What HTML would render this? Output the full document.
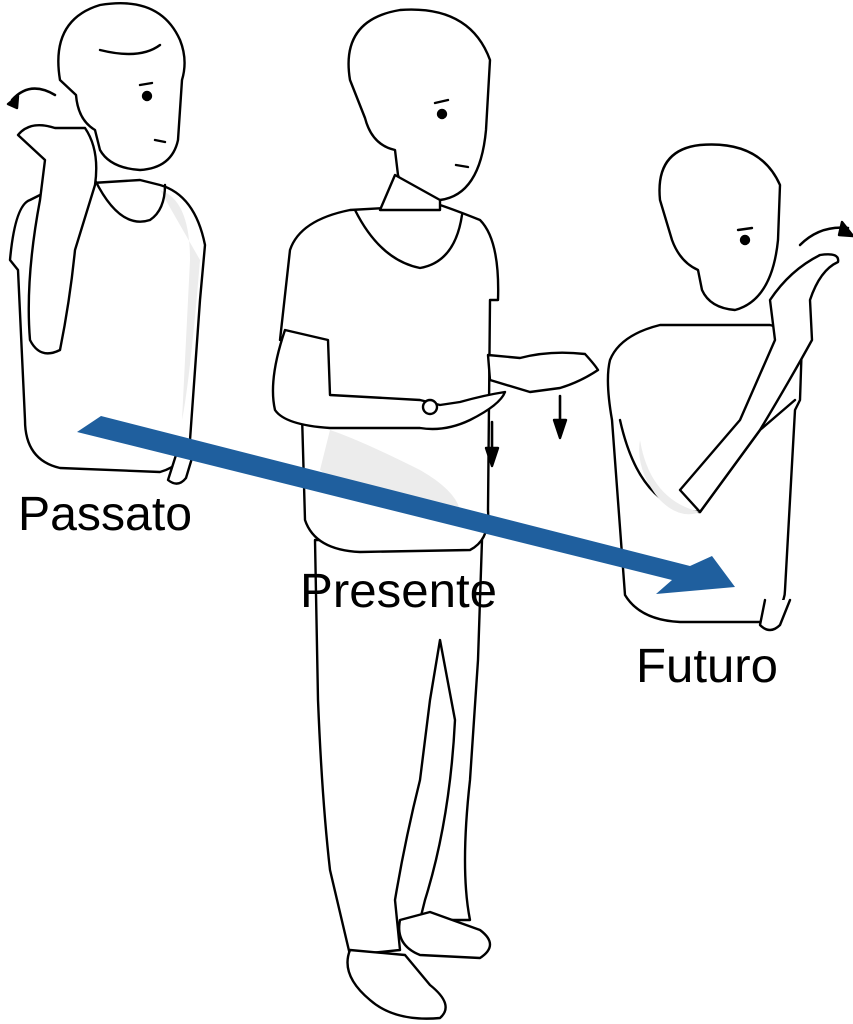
<!DOCTYPE html>
<html><head><meta charset="utf-8"><style>
html,body{margin:0;padding:0;background:#fff;}
svg{display:block}
text{font-family:"Liberation Sans",sans-serif;font-size:48px;fill:#000}
</style></head><body>
<svg width="853" height="1024" viewBox="0 0 853 1024" xmlns="http://www.w3.org/2000/svg">
<g fill="#fff" stroke="#000" stroke-width="2.4" stroke-linejoin="round" stroke-linecap="round">
<!-- LEFT FIGURE (Passato) -->
<path d="M30 200 Q15 205 10 260 L18 270 L25 420 Q25 460 60 468 L160 472 Q185 465 190 440 L200 300 L205 245 Q195 195 160 185 L140 180 L60 185 Z"/>
<path d="M160 190 Q190 200 190 260 L182 420 Q190 380 200 260" fill="#ececec" stroke="none"/>
<path d="M95 180 Q120 230 150 220 Q165 210 165 185" fill="none"/>
<path d="M176 455 L168 480 Q178 488 186 478 L192 458"/>
<!-- left head -->
<path d="M60 80 Q50 20 100 5 Q160 -5 180 40 Q188 60 182 80 L178 140 Q172 168 140 170 Q110 168 100 150 L95 130 Q78 120 76 95 Z"/>
<path d="M100 50 Q140 60 160 45" fill="none"/>
<circle cx="147" cy="96" r="4" fill="#000"/>
<path d="M140 85 L152 83" fill="none"/>
<path d="M155 140 L165 142" fill="none"/>
<!-- raised arm -->
<path d="M55 128 Q30 120 18 135 L45 160 L40 200 Q25 280 30 340 Q40 360 60 350 Q70 300 75 250 L95 185 Q100 150 85 128 Z"/>
<path d="M12 100 Q30 80 55 95" fill="none" stroke-width="2.5"/>
<path d="M8 104 L18 96 L17 108 Z" fill="#000"/>
<!-- CENTER FIGURE (Presente) -->
<path d="M315 540 L318 700 Q322 800 330 870 L350 955 L400 950 L395 900 Q405 840 420 780 L430 700 L440 640 L455 720 Q450 820 425 900 L420 920 L470 920 Q460 870 470 780 L478 660 L482 540 Z"/>
<path d="M350 950 Q340 975 370 1000 Q395 1022 440 1018 Q455 1005 430 985 L405 955 Z"/>
<path d="M400 920 Q395 945 420 955 L480 958 Q500 945 480 930 L430 912 Z"/>
<path d="M350 210 Q300 220 290 250 L280 340 L300 345 L305 520 Q315 550 360 552 L470 550 Q490 540 488 510 L490 300 L498 300 Q500 240 480 220 Q455 210 440 205 Z"/>
<path d="M330 430 Q360 440 420 470 Q455 490 460 510 L430 520 Q360 500 320 470 Z" fill="#ececec" stroke="none"/>
<path d="M355 210 Q380 260 420 268 Q455 262 462 215" fill="none"/>
<path d="M350 80 Q340 20 400 10 Q470 5 490 60 L486 130 Q480 195 440 200 Q405 198 398 175 L395 150 Q372 145 365 118 Z"/>
<path d="M380 210 L395 175 L440 200 L440 210 Z"/>
<circle cx="442" cy="114" r="4" fill="#000"/>
<path d="M435 103 L448 100" fill="none"/>
<path d="M456 165 L468 167" fill="none"/>
<path d="M285 330 Q268 380 275 410 Q285 425 330 428 L420 428 Q445 432 470 420 Q500 405 505 392 Q485 395 460 402 L440 405 L420 400 L330 395 L328 340 Z"/>
<path d="M488 355 L520 358 Q550 350 585 354 Q595 365 598 370 Q580 382 560 388 L530 392 L490 380 Z"/>
<circle cx="430" cy="407" r="7"/>
<path d="M492 422 L492 460 M560 396 L560 430" fill="none" stroke-width="2.6"/>
<path d="M486 448 L492 466 L498 448 Z M554 420 L560 438 L566 420 Z" fill="#000"/>
<!-- RIGHT FIGURE (Futuro) -->
<path d="M660 325 Q620 335 610 360 Q605 380 612 420 L625 595 Q640 620 680 622 L760 622 Q785 610 785 590 L795 410 L800 400 L802 340 Q790 330 770 325 Z"/>
<path d="M620 420 Q640 510 700 512 L760 430 L795 400" fill="none"/>
<path d="M640 440 Q650 500 700 512 Q680 520 660 500 Q635 470 640 440 Z" fill="#ececec" stroke="none"/>
<path d="M765 600 L760 625 Q770 635 780 625 L790 600"/>
<path d="M660 200 Q655 150 700 145 Q760 140 780 185 L778 240 Q772 300 735 310 Q710 308 702 290 L698 270 Q680 262 672 240 Z"/>
<circle cx="745" cy="240" r="4" fill="#000"/>
<path d="M738 230 L752 228" fill="none"/>
<path d="M770 300 Q790 270 820 255 Q840 252 838 262 Q820 270 810 300 L812 340 Q790 380 760 430 L700 512 L680 490 L740 420 L775 340 Z"/>
<path d="M800 245 Q820 225 848 228" fill="none" stroke-width="2.5"/>
<path d="M842 222 L853 236 L839 235 Z" fill="#000"/>
</g>
<path d="M101 416 L690 566 L712 556 L735 587 L656 594 L672 580 L77 432 Z" fill="#1f5f9e"/>
<text x="18" y="530" textLength="174" lengthAdjust="spacingAndGlyphs">Passato</text>
<text x="300" y="607" textLength="197" lengthAdjust="spacingAndGlyphs">Presente</text>
<text x="636" y="682" textLength="142" lengthAdjust="spacingAndGlyphs">Futuro</text>
</svg>
</body></html>
